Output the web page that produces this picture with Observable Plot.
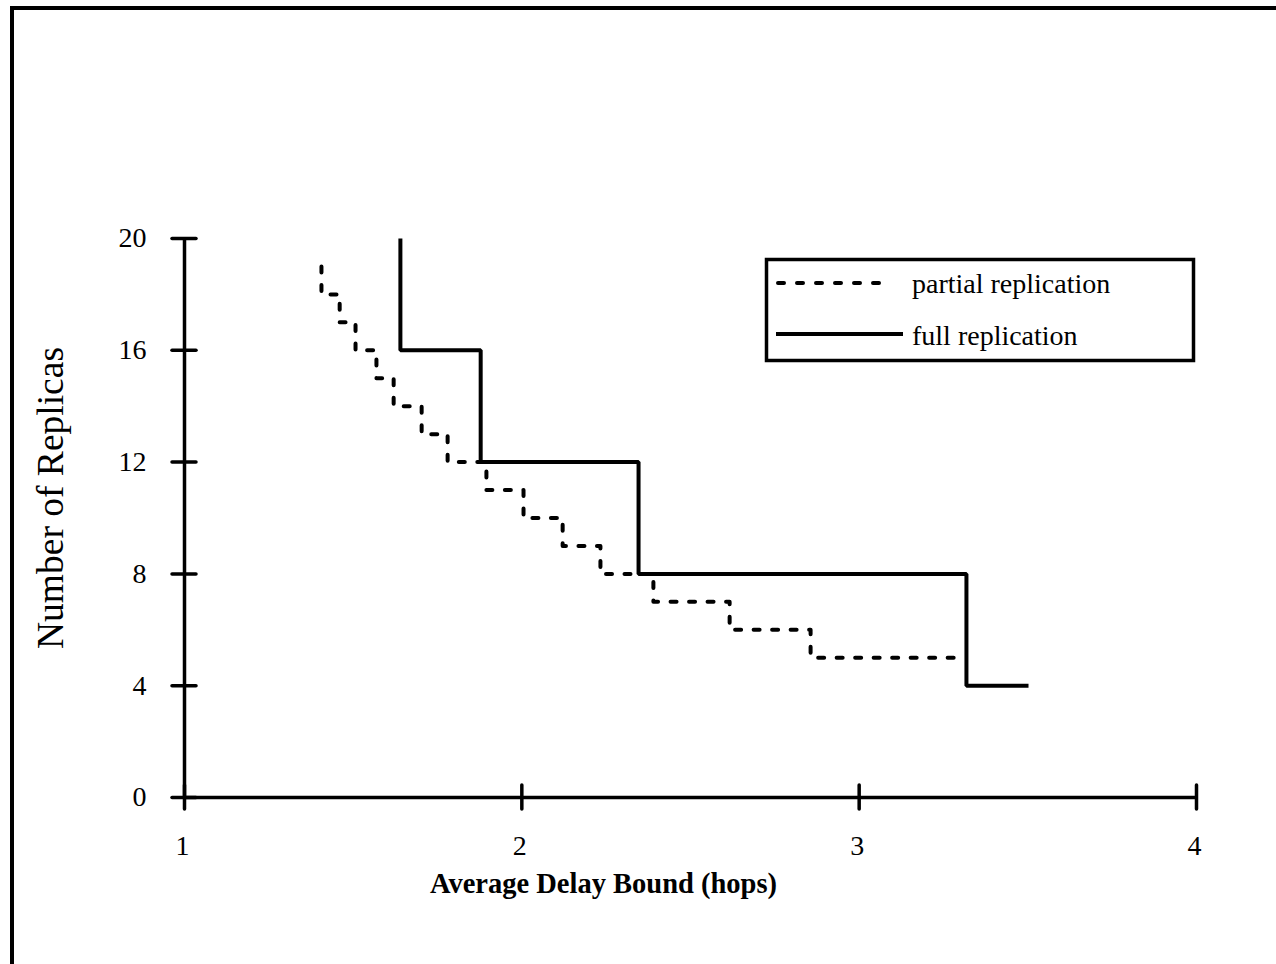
<!DOCTYPE html>
<html>
<head>
<meta charset="utf-8">
<script src="https://cdn.jsdelivr.net/npm/d3@7"></script>
<script src="https://cdn.jsdelivr.net/npm/@observablehq/plot@0.6"></script>
<style>
  html, body { margin: 0; padding: 0; background: #fff; }
  #wrap { position: relative; width: 1276px; height: 964px; overflow: hidden; background: #fff; }
  #border { position: absolute; left: 10px; top: 6px; width: 1300px; height: 1000px;
            border-top: 4px solid #000; border-left: 4px solid #000; box-sizing: border-box; }
  #chart { position: absolute; left: 0; top: 0; }
  #legend { position: absolute; left: 760px; top: 254px; }
</style>
</head>
<body>
<div id="wrap">
  <div id="border"></div>
  <div id="chart"></div>
  <svg id="legend" width="440" height="115" font-family="'Liberation Serif', 'Times New Roman', serif" font-size="28">
    <rect x="6.5" y="5.5" width="427" height="101" fill="#fff" stroke="#000" stroke-width="3.5"></rect>
    <line id="legDash" x1="18" y1="29" x2="128" y2="29" stroke="#000" stroke-width="4" stroke-linecap="round" stroke-dasharray="6,13"></line>
    <text id="legText1" x="152" y="39" fill="#000"></text>
    <line x1="16" y1="80" x2="143" y2="80" stroke="#000" stroke-width="4"></line>
    <text id="legText2" x="152" y="91" fill="#000"></text>
  </svg>
</div>
<script>
// ---- data ----
const seriesNames = ["partial replication", "full replication"];
// partial replication: delay bound (hops) vs number of replicas
const partialDelay    = [1.406, 1.460, 1.507, 1.569, 1.620, 1.703, 1.780, 1.895, 2.005, 2.121, 2.233, 2.390, 2.616, 2.856, 3.315];
const partialReplicas = [19,    18,    17,    16,    15,    14,    13,    12,    11,    10,    9,     8,     7,     6,     5];
// full replication
const fullDelay    = [1.640, 1.878, 2.346, 3.318, 3.502];
const fullReplicas = [20,    16,    12,    8,     4];
// axes
const xTicks = [1, 2, 3, 4];
const yTicks = [0, 4, 8, 12, 16, 20];
const xTitle = "Average Delay Bound (hops)";
const yTitle = "Number of Replicas";

const partial = partialDelay.map((x, i) => ({x, y: partialReplicas[i]}));
const full = fullDelay.map((x, i) => ({x, y: fullReplicas[i]}));

document.getElementById("legText1").textContent = seriesNames[0];
document.getElementById("legText2").textContent = seriesNames[1];

const serif = "'Liberation Serif', 'Times New Roman', serif";

const chart = Plot.plot({
  width: 1276,
  height: 964,
  marginLeft: 184,
  marginRight: 80,
  marginTop: 238,
  marginBottom: 167,
  x: {domain: [1, 4], axis: null},
  y: {domain: [0, 20], axis: null},
  style: {fontFamily: serif, fontSize: "28px", color: "#000", background: "transparent", overflow: "visible"},
  marks: [
    // axis lines
    Plot.ruleY([0], {x1: 1, x2: 4, stroke: "#000", strokeWidth: 3.5}),
    Plot.ruleX([1], {y1: 0, y2: 20, stroke: "#000", strokeWidth: 3.5}),
    // crossing ticks
    Plot.ruleX(xTicks, {x: d => d, y1: 0, y2: 0, insetTop: -12, insetBottom: -12, stroke: "#000", strokeWidth: 3.5, strokeLinecap: "round"}),
    Plot.ruleY(yTicks, {y: d => d, x1: 1, x2: 1, insetLeft: -12, insetRight: -12, stroke: "#000", strokeWidth: 3.5, strokeLinecap: "round"}),
    // tick labels
    Plot.text(xTicks, {x: d => d, y: 0, dy: 49, dx: -2, text: d => String(d), fill: "#000", fontSize: 28}),
    Plot.text(yTicks, {x: 1, y: d => d, dx: -38, textAnchor: "end", text: d => String(d), fill: "#000", fontSize: 28}),
    // series
    Plot.line(partial, {x: "x", y: "y", curve: "step-before", stroke: "#000", strokeWidth: 4, strokeDasharray: "6,12.5", strokeLinecap: "round"}),
    Plot.line(full, {x: "x", y: "y", curve: "step-before", stroke: "#000", strokeWidth: 4, strokeLinecap: "butt", strokeLinejoin: "miter"}),
    // titles
    Plot.text([xTitle], {frameAnchor: "bottom", textAnchor: "middle", lineAnchor: "middle", dx: -87, dy: 86, text: d => d, fontWeight: "bold", fontSize: 28.5, fill: "#000"}),
    Plot.text([yTitle], {frameAnchor: "left", textAnchor: "middle", lineAnchor: "middle", dx: -134, dy: -20, rotate: -90, text: d => d, fontSize: 37.5, fill: "#000"})
  ]
});
document.getElementById("chart").appendChild(chart);
</script>
</body>
</html>
